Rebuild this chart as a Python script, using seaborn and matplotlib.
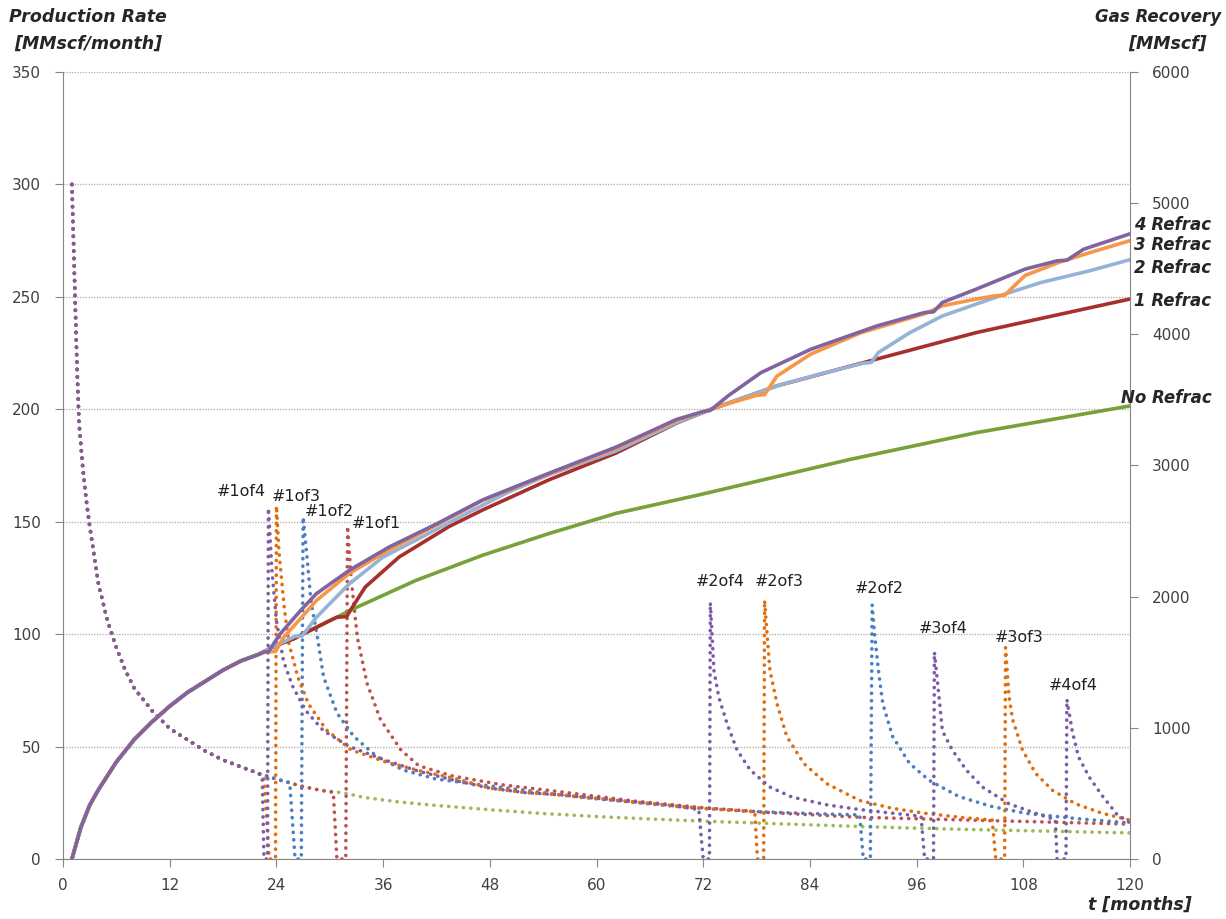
import pandas as pd
import seaborn as sns
import matplotlib.pyplot as plt

# base well: all cases are identical before the first refrac
t_base = [1, 1.2, 1.4, 1.6, 1.8, 2.2, 2.6, 3, 4, 5, 6, 7, 8, 9, 10, 11, 12, 14, 16, 18, 20, 22]
rate_base = [300, 272, 243, 216, 194, 175, 160, 148, 122, 106, 94, 84, 76, 71, 66, 62, 58, 53, 48, 44, 41, 38]
t_cum_base = [1, 1.5, 2, 3, 4, 6, 8, 10, 12, 14, 16, 18, 20, 22]
cum_base = [0, 120, 240, 410, 530, 740, 910, 1045, 1165, 1270, 1355, 1440, 1510, 1560]

# production rate after t=22 [MMscf/month]
rate_no_t = [24, 26.7, 29, 31.5, 34, 37.9, 42, 48.4, 54, 60.4, 66, 71.6, 78, 84, 90, 96, 102, 108, 114, 120]
rate_no = [35.5, 32.5, 30.5, 29.4, 27.3, 25.3, 23.8, 21.8, 20.2, 18.8, 17.8, 16.9, 16, 15.2, 14.4, 13.7, 13.1, 12.6, 12.1, 11.6]

rate_1_t = [24, 26.7, 29, 30.4, 30.8, 31.8, 32, 32.4, 33.1, 34.2, 35.7, 38, 40, 43.7, 49.4, 56.9, 64.4, 72, 80, 90, 100, 110, 120]
rate_1 = [35.5, 32.5, 30.5, 29.7, 0, 0, 148, 125, 98.5, 78, 62, 48.5, 41.5, 37, 33, 29.4, 25.7, 22.8, 20.5, 18.5, 17.5, 16.5, 15.5]

rate_2_t = [24, 25.5, 26.1, 26.8, 27, 27.4, 27.9, 28.6, 29.3, 30.8, 32.7, 35.3, 38.3, 42, 46, 50, 54, 58, 62, 66,
            70, 74, 78, 82, 86, 89.6, 90, 90.8, 91, 91.3, 91.7, 92.2, 93.3, 95.2, 97.4, 100.8, 104.5, 108.3, 113.9, 120]
rate_2 = [35.5, 34, 0, 0, 152, 136, 114, 99, 81, 65, 54.5, 45.5, 39.5, 35.5, 33.5, 31.5, 29.5, 27.5, 26, 24.5,
          23, 22, 21, 20.5, 20, 19.6, 0, 0, 113, 99, 84, 69, 54.5, 42.5, 35, 27.7, 23.3, 20.3, 18, 16]

rate_3_t = [22.6, 23.2, 23.9, 24, 24.3, 24.9, 25.4, 26.4, 27.6, 29.6, 32.4, 36.4, 40.4, 44.4, 48, 52, 56, 60, 64, 68,
            72, 76, 77.8, 78.1, 78.8, 78.9, 79.2, 79.5, 80.3, 81.4, 83.3, 85.9, 89.6, 93.3, 97, 101, 104.5, 104.9,
            105.9, 106, 106.4, 106.8, 107.9, 109.4, 111.3, 113.9, 116.9, 120]
rate_3 = [36.5, 0, 0, 157, 136, 111, 96, 81, 69, 57.5, 48.5, 43, 39, 35.5, 31.5, 29.5, 28.5, 27, 25.5, 24,
          22.5, 21.5, 21, 0, 0, 115, 99, 84, 69, 54.5, 42.5, 33.5, 26, 22.5, 20.3, 18.5, 17.3, 0,
          0, 94, 72, 62, 48.5, 38, 30.5, 24.5, 20.3, 17.3]

rate_4_t = [22.4, 22.6, 23.0, 23.1, 23.5, 24, 24.8, 25.8, 27.3, 29.3, 32.2, 36.2, 40, 44, 48, 52, 56, 60, 64, 68,
            71.5, 72, 72.7, 72.8, 73.0, 73.2, 73.75, 74.7, 75.8, 77.3, 79.5, 82, 86, 89.6, 93, 96.5, 96.9, 97.9,
            98, 98.6, 98.9, 100, 101.6, 103.4, 106.4, 110, 111.6, 111.8, 112.8, 112.9, 113.5, 114.2, 115.4,
            116.9, 118.5, 120]
rate_4 = [37, 0, 0, 156, 128, 106, 88, 77, 66, 57, 50, 44, 39, 35, 31.5, 29.5, 28.5, 27, 25.5, 24,
          22, 0, 0, 114, 99, 84, 72, 60, 48.5, 39.5, 32, 27.5, 24, 22, 20.5, 19, 0, 0,
          92, 69, 57, 48.5, 39.5, 32, 24.5, 19.5, 17.5, 0, 0, 71, 57, 45.5, 36.5,
          28, 20, 16]

# cumulative gas recovery after t=22 [MMscf]
cum_no_t = [24, 26, 28, 30, 30.8, 32.2, 39.7, 47.2, 54.7, 62.2, 71.6, 88.5, 102.7, 120]
cum_no = [1629, 1680, 1749, 1817, 1843, 1893, 2124, 2316, 2482, 2635, 2777, 3046, 3250, 3454]

cum_1_t = [24, 26, 28, 30, 30.8, 31.9, 32.3, 34, 37.8, 43.4, 47.2, 54.7, 62.2, 69.1, 72.9, 80.3, 91.5, 102.7, 120]
cum_1 = [1629, 1680, 1749, 1817, 1843, 1848, 1894, 2074, 2302, 2534, 2661, 2892, 3095, 3326, 3429, 3607, 3811, 4013, 4269]

cum_2_t = [24, 26.1, 26.9, 28.5, 32.2, 36, 39.7, 45.4, 50, 54.7, 62.2, 69, 72.9, 80.3, 85, 90, 90.9, 91.7,
           95.2, 98.9, 105.9, 110, 115.5, 120]
cum_2 = [1629, 1697, 1701, 1843, 2098, 2302, 2431, 2635, 2794, 2931, 3111, 3326, 3429, 3607, 3694, 3780, 3785, 3861,
         4011, 4140, 4306, 4395, 4485, 4569]

cum_3_t = [22.6, 23.9, 24.8, 26.5, 28.5, 32.2, 36.7, 42, 47.2, 54.7, 62.2, 69, 72, 75, 78, 78.9, 80.3, 84.1,
           89.7, 96.9, 98.9, 102.7, 104.9, 105.9, 108.2, 112, 115.5, 120]
cum_3 = [1577, 1582, 1689, 1817, 1971, 2177, 2357, 2546, 2734, 2937, 3130, 3343, 3411, 3475, 3535, 3540, 3682, 3849,
         4011, 4157, 4217, 4269, 4294, 4298, 4449, 4548, 4623, 4714]

cum_4_t = [22.6, 23.1, 24.4, 26.7, 28.5, 32.2, 36.7, 42, 47.2, 54.7, 62.2, 69, 72, 72.8, 74.8, 78.5, 84.1,
           91.5, 96.9, 97.9, 98.9, 102.7, 108.2, 111.8, 112.9, 114.8, 120]
cum_4 = [1577, 1580, 1714, 1893, 2023, 2201, 2379, 2554, 2738, 2942, 3140, 3351, 3411, 3420, 3531, 3708, 3886,
         4063, 4166, 4171, 4243, 4344, 4497, 4560, 4565, 4649, 4766]

# series: (rate t, rate, cum t, cum, dotted colour, solid colour)
series = {
    "No Refrac": (rate_no_t, rate_no, cum_no_t, cum_no, "#9bbb59", "#77a23a"),
    "1 Refrac": (rate_1_t, rate_1, cum_1_t, cum_1, "#c0504d", "#a8302c"),
    "2 Refrac": (rate_2_t, rate_2, cum_2_t, cum_2, "#4a7fc1", "#95b3d7"),
    "3 Refrac": (rate_3_t, rate_3, cum_3_t, cum_3, "#e36c0a", "#f79646"),
    "4 Refrac": (rate_4_t, rate_4, cum_4_t, cum_4, "#7b5ca6", "#8064a2"),
}

# refrac labels: (text, t, rate)
refrac_labels = [("#1of4", 20.0, 160), ("#1of3", 26.2, 158), ("#1of2", 29.9, 151), ("#1of1", 35.2, 146),
                 ("#2of4", 73.9, 120), ("#2of3", 80.6, 120), ("#2of2", 91.8, 117),
                 ("#3of4", 99.0, 99), ("#3of3", 107.5, 95), ("#4of4", 113.6, 74)]

# end labels: (text, cum value at which the label sits)
end_labels = [("4 Refrac", 4830), ("3 Refrac", 4678), ("2 Refrac", 4503), ("1 Refrac", 4251), ("No Refrac", 3514)]

sns.set_style("white")
plt.rcParams["font.family"] = ["DejaVu Sans"]

fig = plt.figure(figsize=(12.26, 9.19), dpi=100)
ax = fig.add_axes([0.0514, 0.0653, 0.8703, 0.8564])
ax2 = ax.twinx()

for name, (rt, rv, ct, cv, dcol, scol) in series.items():
    df_rate = pd.DataFrame({"t": t_base + rt, "q": rate_base + rv})
    sns.lineplot(data=df_rate, x="t", y="q", ax=ax, color=dcol, lw=2.6,
                 linestyle=(0, (0.05, 2.0)), dash_capstyle="round",
                 sort=False, estimator=None, legend=False)
    df_cum = pd.DataFrame({"t": t_cum_base + ct, "G": cum_base + cv})
    sns.lineplot(data=df_cum, x="t", y="G", ax=ax2, color=scol, lw=2.6,
                 sort=False, estimator=None, legend=False)

# axes
ax.set_xlim(0, 120)
ax.set_ylim(0, 350)
ax2.set_ylim(0, 6000)
ax.set_xticks(range(0, 121, 12))
ax.set_yticks(range(0, 351, 50))
ax2.set_yticks(range(0, 6001, 1000))
ax.set_xlabel("")
ax.set_ylabel("")
ax2.set_ylabel("")

ax.yaxis.grid(True, color="#b5b5b5", linestyle=(0, (1, 1)), lw=1)
ax.set_axisbelow(True)

gray = "#868686"
for sp in ["top", "right"]:
    ax.spines[sp].set_visible(False)
for sp in ["top", "left", "bottom"]:
    ax2.spines[sp].set_visible(False)
for sp in ["left", "bottom"]:
    ax.spines[sp].set_color(gray)
ax2.spines["right"].set_color(gray)

ax.tick_params(axis="x", bottom=True, direction="out", length=6, color=gray, labelsize=11,
               labelcolor="#404040", pad=8)
ax.tick_params(axis="y", left=True, direction="out", length=6, color=gray, labelsize=11,
               labelcolor="#404040", pad=10)
ax2.tick_params(axis="y", right=True, direction="out", length=6, color=gray, labelsize=11,
                labelcolor="#404040", pad=10)

# annotations
for txt, t, q in refrac_labels:
    ax.text(t, q, txt, fontsize=11.5, ha="center", va="bottom", color="#222222")

for txt, g in end_labels:
    ax2.text(1.004 if txt != "No Refrac" else 0.992, g, txt, transform=ax2.get_yaxis_transform(),
             fontsize=12, fontweight="bold", fontstyle="italic", ha="left", va="center", clip_on=False)

fig.text(0.072, 0.981, "Production Rate", fontsize=12.5, fontweight="bold", fontstyle="italic",
         ha="center", va="center")
fig.text(0.072, 0.952, "[MMscf/month]", fontsize=12.5, fontweight="bold", fontstyle="italic",
         ha="center", va="center")
fig.text(0.996, 0.981, "Gas Recovery", fontsize=12, fontweight="bold", fontstyle="italic",
         ha="right", va="center")
fig.text(0.952, 0.952, "[MMscf]", fontsize=12.5, fontweight="bold", fontstyle="italic",
         ha="center", va="center")
fig.text(0.930, 0.015, "t [months]", fontsize=12.5, fontweight="bold", fontstyle="italic",
         ha="center", va="center")

fig.savefig("out.png", dpi=100)
